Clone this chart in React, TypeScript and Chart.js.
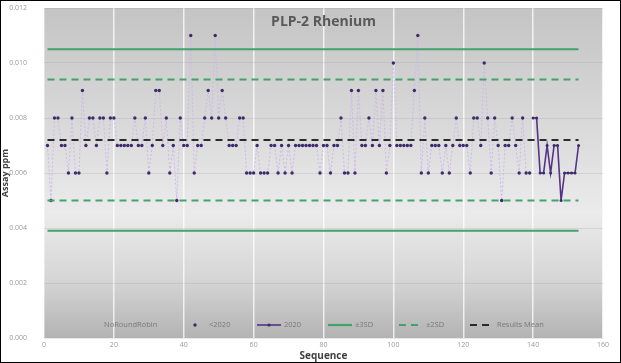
import React, { useEffect, useRef } from "react";
import { Chart, registerables } from "chart.js";
Chart.register(...registerables);

const TITLE = "PLP-2 Rhenium";
const X_TITLE = "Sequence";
const Y_TITLE = "Assay ppm";

// <2020 results, sequence 1..139
const PRE2020_START = 1;
const pre2020Values = [
  0.007, 0.005, 0.008, 0.008, 0.007, 0.007, 0.006, 0.008, 0.006, 0.006,
  0.009, 0.007, 0.008, 0.008, 0.007, 0.008, 0.008, 0.006, 0.008, 0.008,
  0.007, 0.007, 0.007, 0.007, 0.007, 0.008, 0.007, 0.007, 0.008, 0.006,
  0.007, 0.009, 0.009, 0.007, 0.008, 0.006, 0.007, 0.005, 0.008, 0.007,
  0.007, 0.011, 0.006, 0.007, 0.007, 0.008, 0.009, 0.008, 0.011, 0.008,
  0.009, 0.008, 0.007, 0.007, 0.007, 0.008, 0.008, 0.006, 0.006, 0.006,
  0.007, 0.006, 0.006, 0.006, 0.007, 0.007, 0.006, 0.007, 0.006, 0.007,
  0.006, 0.007, 0.007, 0.007, 0.007, 0.007, 0.007, 0.007, 0.006, 0.007,
  0.007, 0.006, 0.007, 0.007, 0.008, 0.006, 0.006, 0.009, 0.006, 0.009,
  0.007, 0.007, 0.008, 0.007, 0.009, 0.007, 0.009, 0.006, 0.007, 0.010,
  0.007, 0.007, 0.007, 0.007, 0.007, 0.009, 0.011, 0.006, 0.008, 0.006,
  0.007, 0.007, 0.007, 0.006, 0.007, 0.006, 0.007, 0.008, 0.007, 0.007,
  0.007, 0.006, 0.008, 0.008, 0.007, 0.010, 0.008, 0.006, 0.008, 0.007,
  0.005, 0.007, 0.007, 0.008, 0.007, 0.006, 0.008, 0.006, 0.006,
];

// 2020 results, sequence 140..153
const Y2020_START = 140;
const y2020Values = [
  0.008, 0.008, 0.006, 0.006, 0.007, 0.006, 0.007, 0.007, 0.005, 0.006,
  0.006, 0.006, 0.006, 0.007,
];

// control lines
const LINE_START = 1;
const LINE_END = 153;
const MEAN = 0.0072;
const SD3_UPPER = 0.0105;
const SD3_LOWER = 0.0039;
const SD2_UPPER = 0.0094;
const SD2_LOWER = 0.005;

const X_MIN = 0;
const X_MAX = 160;
const X_STEP = 20;
const Y_MIN = 0;
const Y_MAX = 0.012;
const Y_STEP = 0.002;

const legendLabels = ["NoRoundRobin", "<2020", "2020", "±3SD", "±2SD", "Results Mean"];

const FONT = "'Open Sans', 'Noto Sans', sans-serif";
const GREEN = "#42a36c";
const LAVENDER = "#cdb9ec";
const DARK_PURPLE = "#3d2a6c";
const PURPLE = "#553487";

function seqPoints(start: number, values: number[]) {
  return values.map((v, i) => ({ x: start + i, y: v }));
}
function hLine(v: number) {
  return [
    { x: LINE_START, y: v },
    { x: LINE_END, y: v },
  ];
}

const bgPlugin = {
  id: "bgPlugin",
  beforeDraw(chart: any) {
    const { ctx, chartArea: a, width, height } = chart;
    ctx.save();
    ctx.fillStyle = "#ffffff";
    ctx.fillRect(0, 0, width, height);
    const g = ctx.createLinearGradient(0, a.top, 0, a.bottom);
    g.addColorStop(0, "#c4c4c4");
    g.addColorStop(0.4, "#dcdcdc");
    g.addColorStop(0.62, "#ebebeb");
    g.addColorStop(0.82, "#d6d6d6");
    g.addColorStop(1, "#b3b3b3");
    ctx.fillStyle = g;
    ctx.fillRect(a.left, a.top, a.right - a.left, a.bottom - a.top);
    ctx.restore();
  },
  afterDraw(chart: any) {
    const { ctx, chartArea: a, width, height } = chart;
    ctx.save();
    // title inside plot
    ctx.fillStyle = "#595959";
    ctx.font = `bold 14px ${FONT}`;
    ctx.textAlign = "center";
    ctx.textBaseline = "middle";
    ctx.fillText(TITLE, (a.left + a.right) / 2, a.top + 14);

    // legend inside plot, bottom
    const ly = a.bottom - 13;
    const starts = [104, 183, 257, 328, 399, 470];
    ctx.font = `7.5px ${FONT}`;
    ctx.textAlign = "left";
    ctx.textBaseline = "middle";
    const ds = chart.data.datasets;
    legendLabels.forEach((lab, i) => {
      const sx = starts[i];
      let tx = sx;
      if (i === 1) {
        ctx.fillStyle = ds[1].pointBackgroundColor;
        ctx.beginPath();
        ctx.arc(sx + 12, ly, 1.7, 0, Math.PI * 2);
        ctx.fill();
        tx = sx + 26;
      } else if (i >= 2) {
        const d = ds[i === 2 ? 2 : i === 3 ? 3 : i === 4 ? 5 : 7];
        ctx.strokeStyle = d.borderColor;
        ctx.lineWidth = d.borderWidth;
        ctx.setLineDash(d.borderDash || []);
        ctx.beginPath();
        ctx.moveTo(sx, ly);
        ctx.lineTo(sx + 24, ly);
        ctx.stroke();
        ctx.setLineDash([]);
        if (i === 2) {
          ctx.fillStyle = d.pointBackgroundColor;
          ctx.beginPath();
          ctx.arc(sx + 12, ly, 1.6, 0, Math.PI * 2);
          ctx.fill();
        }
        tx = sx + 27;
      }
      ctx.fillStyle = "#7a7a7a";
      ctx.fillText(lab, tx, ly);
    });

    // outer frame
    ctx.strokeStyle = "#000000";
    ctx.lineWidth = 1;
    ctx.strokeRect(0.5, 0.5, width - 1, height - 1);
    ctx.restore();
  },
};

export default function App() {
  const ref = useRef<HTMLCanvasElement | null>(null);
  useEffect(() => {
    if (!ref.current) return;
    const refLine = (label: string, v: number, color: string, dash: number[], w: number) => ({
      label,
      data: hLine(v),
      borderColor: color,
      backgroundColor: color,
      borderWidth: w,
      borderDash: dash,
      pointRadius: 0,
      fill: false,
      order: 2,
    });
    const chart = new Chart(ref.current, {
      type: "line",
      data: {
        datasets: [
          { label: legendLabels[0], data: [], pointRadius: 0, borderWidth: 0, borderColor: "transparent" },
          {
            label: legendLabels[1],
            data: seqPoints(PRE2020_START, pre2020Values),
            borderColor: LAVENDER,
            borderWidth: 1,
            borderDash: [2, 2],
            pointRadius: 1.7,
            pointBackgroundColor: DARK_PURPLE,
            pointBorderWidth: 0,
            pointBorderColor: DARK_PURPLE,
            tension: 0,
            order: 4,
          },
          {
            label: legendLabels[2],
            data: seqPoints(Y2020_START, y2020Values),
            borderColor: PURPLE,
            borderWidth: 1.6,
            pointRadius: 1.5,
            pointBackgroundColor: DARK_PURPLE,
            pointBorderWidth: 0,
            pointBorderColor: DARK_PURPLE,
            tension: 0,
            order: 1,
          },
          refLine(legendLabels[3], SD3_UPPER, GREEN, [], 2.2),
          refLine(legendLabels[3] + " low", SD3_LOWER, GREEN, [], 2.2),
          refLine(legendLabels[4], SD2_UPPER, GREEN, [7, 5], 1.8),
          refLine(legendLabels[4] + " low", SD2_LOWER, GREEN, [7, 5], 1.8),
          refLine(legendLabels[5], MEAN, "#2b2b2b", [7, 5], 1.8),
        ],
      },
      options: {
        animation: false,
        responsive: false,
        layout: { autoPadding: false, padding: { top: 8, right: 18, bottom: 0, left: 0 } },
        plugins: {
          legend: { display: false },
          title: { display: false },
          tooltip: { enabled: false },
        },
        scales: {
          x: {
            type: "linear",
            min: X_MIN,
            max: X_MAX,
            border: { display: false },
            grid: { color: "rgba(255,255,255,0.75)", lineWidth: 1.5, drawTicks: false },
            ticks: { stepSize: X_STEP, color: "#9a9a9a", font: { size: 7, family: FONT }, padding: 3 },
            title: {
              display: true,
              text: X_TITLE,
              color: "#3f3f3f",
              font: { size: 10, weight: "bold", family: FONT },
              padding: { top: 0, bottom: 1 },
            },
            afterFit: (s: any) => {
              s.height = 25;
              s.paddingLeft = 0;
              s.paddingRight = 0;
            },
          },
          y: {
            min: Y_MIN,
            max: Y_MAX,
            border: { display: false },
            grid: { color: "rgba(150,150,150,0.22)", lineWidth: 1, drawTicks: false },
            ticks: {
              stepSize: Y_STEP,
              color: "#9a9a9a",
              font: { size: 7, family: FONT },
              padding: 17,
              callback: (v: any) => Number(v).toFixed(3),
            },
            title: {
              display: true,
              text: Y_TITLE,
              color: "#3f3f3f",
              font: { size: 9, weight: "bold", family: FONT },
              padding: 0,
            },
            afterFit: (s: any) => {
              s.width = 44;
              s.paddingTop = 0;
              s.paddingBottom = 0;
            },
          },
        },
      } as any,
      plugins: [bgPlugin],
    });
    return () => chart.destroy();
  }, []);
  return (
    <div style={{ position: "fixed", left: 0, top: 0, width: 621, height: 363 }}>
      <canvas ref={ref} width={621} height={363} style={{ display: "block" }} />
    </div>
  );
}
